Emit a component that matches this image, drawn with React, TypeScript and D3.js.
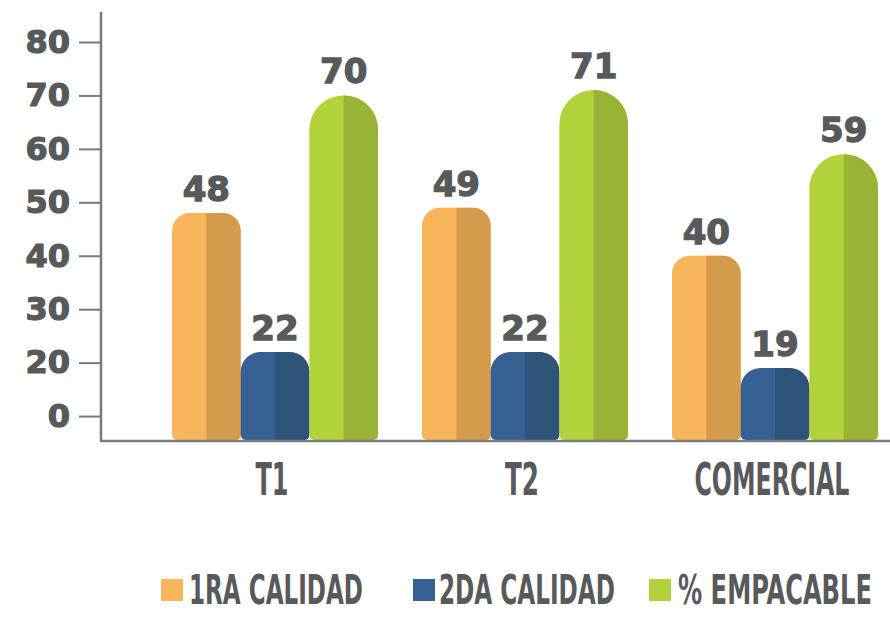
import React, { useEffect, useRef } from "react";
import * as d3 from "d3";

// chart values
const categories = ["T1", "T2", "COMERCIAL"];
const seriesNames = ["1RA CALIDAD", "2DA CALIDAD", "% EMPACABLE"];
const primeraCalidad = [48, 49, 40];
const segundaCalidad = [22, 22, 19];
const empacable = [70, 71, 59];

// the original axis prints "0" where 10 would sit (no "10" label)
const tickValues = [10, 20, 30, 40, 50, 60, 70, 80];
const tickLabels = ["0", "20", "30", "40", "50", "60", "70", "80"];

const lightColors = ["#F8B559", "#386193", "#B2D23C"];
const darkColors = ["#D59B4C", "#2F5479", "#99B335"];
const topRadius = [18, 20, 34];
const textColor = "#58595b";
const axisColor = "#7a7a7a";
const condensed = "'Liberation Sans Narrow', 'DejaVu Sans Condensed', 'Liberation Sans', sans-serif";
const bold = "'DejaVu Sans', 'Noto Sans', sans-serif";

function fullBar(x: number, w: number, top: number, bottom: number, rt: number, rb: number) {
  return `M${x},${top + rt} A${rt},${rt} 0 0 1 ${x + rt},${top} L${x + w - rt},${top}
    A${rt},${rt} 0 0 1 ${x + w},${top + rt} L${x + w},${bottom - rb}
    A${rb},${rb} 0 0 1 ${x + w - rb},${bottom} L${x + rb},${bottom}
    A${rb},${rb} 0 0 1 ${x},${bottom - rb} Z`;
}

function rightHalf(x: number, w: number, top: number, bottom: number, rt: number, rb: number) {
  return `M${x + w / 2},${top} L${x + w - rt},${top}
    A${rt},${rt} 0 0 1 ${x + w},${top + rt} L${x + w},${bottom - rb}
    A${rb},${rb} 0 0 1 ${x + w - rb},${bottom} L${x + w / 2},${bottom} Z`;
}

// squeeze a text horizontally to a given width (condensed look)
function squeeze(sel: any, x: number, y: number, width: number, anchor: string) {
  const node = sel.node() as SVGTextElement;
  const natural = node.getComputedTextLength() || width;
  const k = width / natural;
  const left = anchor === "middle" ? x - width / 2 : x;
  sel.attr("x", 0).attr("y", 0).attr("text-anchor", "start")
    .attr("transform", `translate(${left},${y}) scale(${k},1)`);
}

export default function App() {
  const ref = useRef<SVGSVGElement>(null);

  useEffect(() => {
    document.body.style.margin = "0";
    const svg = d3.select(ref.current);
    svg.selectAll("*").remove();

    const axisX = 101;
    const baseY = 441;

    const y = d3.scaleLinear().domain([0, 80]).range([469.5, 42]);
    const x0 = d3.scaleBand().domain(categories).range([150, 900]).paddingInner(0.176).paddingOuter(0.088);
    const x1 = d3.scaleBand().domain(seriesNames).range([0, x0.bandwidth()]);

    const series = [primeraCalidad, segundaCalidad, empacable];

    // y axis ticks and labels
    const yAxis = svg.append("g")
      .attr("transform", `translate(${axisX},0)`)
      .call(d3.axisLeft(y).tickValues(tickValues).tickSize(22).tickPadding(9)
        .tickFormat((d, i) => tickLabels[i]));
    yAxis.select(".domain").remove();
    yAxis.selectAll("line").attr("stroke", axisColor).attr("stroke-width", 2);
    yAxis.selectAll("text")
      .attr("fill", textColor)
      .attr("stroke", textColor)
      .attr("stroke-width", 1.2)
      .style("font-family", bold)
      .style("font-weight", "bold")
      .style("font-size", "32px");

    // bars
    const g = svg.append("g");
    categories.forEach((cat, i) => {
      series.forEach((vals, j) => {
        const v = vals[i];
        const bx = x0(cat)! + x1(seriesNames[j])!;
        const w = x1.bandwidth();
        const top = y(v);
        const rt = Math.min(topRadius[j], w / 2);
        g.append("path").attr("d", fullBar(bx, w, top, baseY - 1, rt, 5)).attr("fill", lightColors[j]);
        g.append("path").attr("d", rightHalf(bx, w, top, baseY - 1, rt, 5)).attr("fill", darkColors[j]);
        g.append("text")
          .attr("x", bx + w / 2)
          .attr("y", top - 12)
          .attr("text-anchor", "middle")
          .attr("fill", textColor)
          .attr("stroke", textColor)
          .attr("stroke-width", 1.3)
          .style("font-family", bold)
          .style("font-weight", "bold")
          .style("font-size", "34px")
          .text(v);
      });
    });

    // axis lines
    svg.append("line")
      .attr("x1", axisX).attr("x2", axisX).attr("y1", 12).attr("y2", baseY + 1)
      .attr("stroke", axisColor).attr("stroke-width", 2.5);
    svg.append("line")
      .attr("x1", axisX).attr("x2", 890).attr("y1", baseY).attr("y2", baseY)
      .attr("stroke", axisColor).attr("stroke-width", 2.5);

    // category labels
    const catWidths = [33, 34, 155];
    categories.forEach((cat, i) => {
      const t = svg.append("text")
        .attr("fill", textColor)
        .style("font-family", condensed)
        .style("font-weight", "bold")
        .style("font-size", "44px")
        .text(cat);
      squeeze(t, x0(cat)! + x0.bandwidth() / 2 - 3, 495, catWidths[i], "middle");
    });

    // legend
    const legendSquareX = [161, 413, 649];
    const legendTextX = [189, 439, 678];
    const legendWidths = [174, 176, 194];
    const legend = svg.append("g");
    seriesNames.forEach((name, j) => {
      legend.append("rect")
        .attr("x", legendSquareX[j]).attr("y", 579)
        .attr("width", 22).attr("height", 22)
        .attr("fill", lightColors[j]);
      const t = legend.append("text")
        .attr("fill", textColor)
        .style("font-family", condensed)
        .style("font-weight", "bold")
        .style("font-size", "40px")
        .text(name);
      squeeze(t, legendTextX[j], 604, legendWidths[j], "start");
    });
  }, []);

  return <svg ref={ref} width={890} height={617} style={{ display: "block", background: "#fff" }} />;
}
